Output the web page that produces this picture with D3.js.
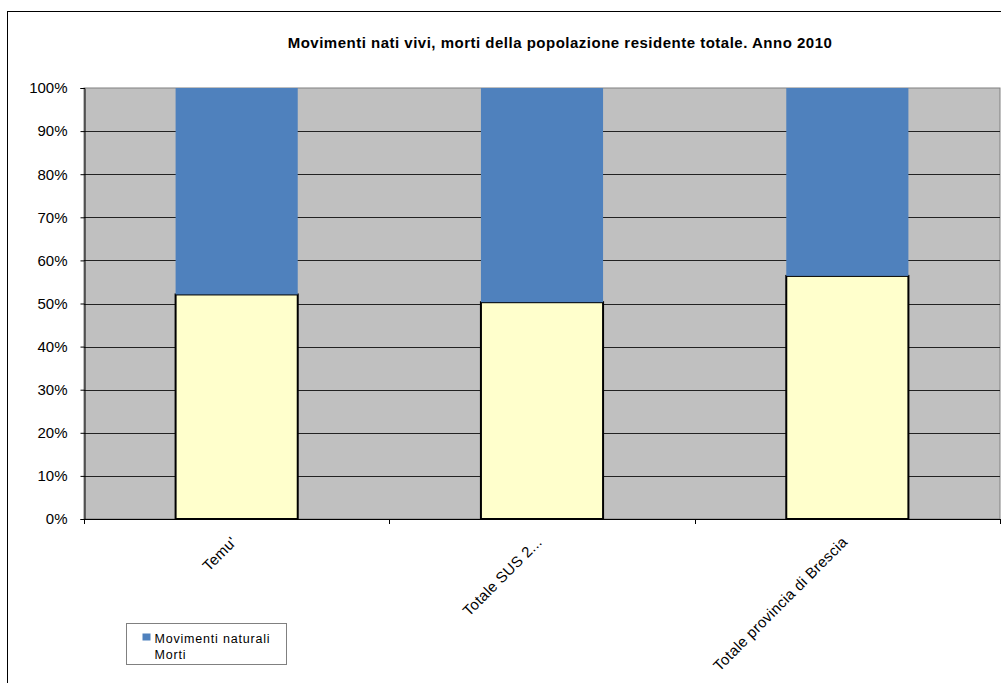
<!DOCTYPE html>
<html>
<head>
<meta charset="utf-8">
<script src="https://cdn.jsdelivr.net/npm/d3@7"></script>
<style>
  html, body { margin: 0; padding: 0; background: #fff; }
  svg { display: block; font-family: "Liberation Sans", Arial, sans-serif; }
</style>
</head>
<body>
<svg id="chart" width="1001" height="683"></svg>
<script>
const title = "Movimenti nati vivi, morti della popolazione residente totale. Anno 2010";
const categories = ["Temu'", "Totale SUS 2...", "Totale provincia di Brescia"];
const seriesNames = ["Morti", "Movimenti naturali"];
const morti = [0.521, 0.503, 0.564];
const movimentiNaturali = [0.479, 0.497, 0.436];
const yTicks = [0, 0.1, 0.2, 0.3, 0.4, 0.5, 0.6, 0.7, 0.8, 0.9, 1.0];
const legendNames = ["Movimenti naturali", "Morti"];

const colors = { "Movimenti naturali": "#4F81BD", "Morti": "#FFFFCC" };

const svg = d3.select("#chart");
const W = 1001, H = 683;
const plot = { left: 84, right: 1000, top: 88, bottom: 519 };

// outer chart border
svg.append("rect")
  .attr("x", 7.5).attr("y", 11.5)
  .attr("width", W + 20).attr("height", H + 20)
  .attr("fill", "#fff").attr("stroke", "#000").attr("stroke-width", 1);

// title
svg.append("text")
  .attr("x", 560).attr("y", 48)
  .attr("text-anchor", "middle")
  .attr("font-size", 15).attr("font-weight", "bold")
  .style("letter-spacing", "0.5px")
  .attr("fill", "#000")
  .text(title);

const x = d3.scaleBand().domain(categories).range([plot.left, plot.right]).paddingInner(0.6).paddingOuter(0.3);
const xOuter = d3.scaleBand().domain(categories).range([plot.left, plot.right]);
const y = d3.scaleLinear().domain([0, 1]).range([plot.bottom, plot.top]);

// plot background
svg.append("rect")
  .attr("x", plot.left).attr("y", plot.top)
  .attr("width", plot.right - plot.left).attr("height", plot.bottom - plot.top)
  .attr("fill", "#C0C0C0").attr("stroke", "#808080").attr("stroke-width", 1);

// gridlines
svg.append("g").selectAll("line")
  .data(yTicks.filter(d => d > 0 && d < 1))
  .join("line")
  .attr("x1", plot.left).attr("x2", plot.right)
  .attr("y1", d => Math.round(y(d)) + 0.5).attr("y2", d => Math.round(y(d)) + 0.5)
  .attr("stroke", "#222").attr("stroke-width", 1);

// stacked data
const rows = categories.map((c, i) => ({ cat: c, "Morti": morti[i], "Movimenti naturali": movimentiNaturali[i] }));
const stack = d3.stack().keys(seriesNames)(rows);

const barG = svg.append("g");
stack.forEach(layer => {
  barG.append("g").selectAll("rect")
    .data(layer)
    .join("rect")
    .attr("x", d => x(d.data.cat))
    .attr("width", x.bandwidth())
    .attr("y", d => y(d[1]))
    .attr("height", d => y(d[0]) - y(d[1]))
    .attr("fill", colors[layer.key])
    .attr("stroke", layer.key === "Morti" ? "#000" : "none")
    .attr("stroke-width", layer.key === "Morti" ? 2 : 0);
});

// y axis
const yAxis = d3.axisLeft(y).tickValues(yTicks).tickFormat(d3.format(".0%")).tickSize(4).tickPadding(13);
const yg = svg.append("g").attr("transform", `translate(${plot.left + 0.5},0)`).call(yAxis);
yg.select(".domain").attr("stroke", "#000");
yg.selectAll(".tick line").attr("stroke", "#000");
yg.selectAll(".tick text").attr("font-size", 15).attr("fill", "#000")
  .attr("font-family", "'Liberation Sans', Arial, sans-serif");

// x axis line and ticks at band boundaries
const xg = svg.append("g");
xg.append("line")
  .attr("x1", plot.left).attr("x2", plot.right)
  .attr("y1", plot.bottom + 0.5).attr("y2", plot.bottom + 0.5)
  .attr("stroke", "#000");
const boundaries = categories.map(c => xOuter(c)).concat([xOuter(categories[categories.length - 1]) + xOuter.bandwidth()]);
xg.selectAll("line.tk").data(boundaries).join("line")
  .attr("class", "tk")
  .attr("x1", d => Math.round(d) + 0.5).attr("x2", d => Math.round(d) + 0.5)
  .attr("y1", plot.bottom).attr("y2", plot.bottom + 5)
  .attr("stroke", "#000");

xg.selectAll("text").data(categories).join("text")
  .attr("transform", d => `translate(${xOuter(d) + xOuter.bandwidth() / 2 + 1},${plot.bottom + 24}) rotate(-45)`)
  .attr("text-anchor", "end")
  .attr("font-size", 15)
  .style("letter-spacing", "0.3px")
  .attr("fill", "#000")
  .text(d => d);

// legend
const lg = svg.append("g").attr("transform", "translate(126.5,623.5)");
lg.append("rect").attr("width", 160).attr("height", 41)
  .attr("fill", "#fff").attr("stroke", "#808080");
legendNames.forEach((n, i) => {
  const row = lg.append("g").attr("transform", `translate(0,${9 + i * 16})`);
  if (n !== "Morti") {
    row.append("rect").attr("x", 16).attr("y", 1).attr("width", 8).attr("height", 7)
      .attr("fill", colors[n]);
  }
  row.append("text").attr("x", 28).attr("y", 10)
    .attr("font-size", 12.5)
    .style("letter-spacing", "0.8px")
    .attr("fill", "#000").text(n);
});
</script>
</body>
</html>
